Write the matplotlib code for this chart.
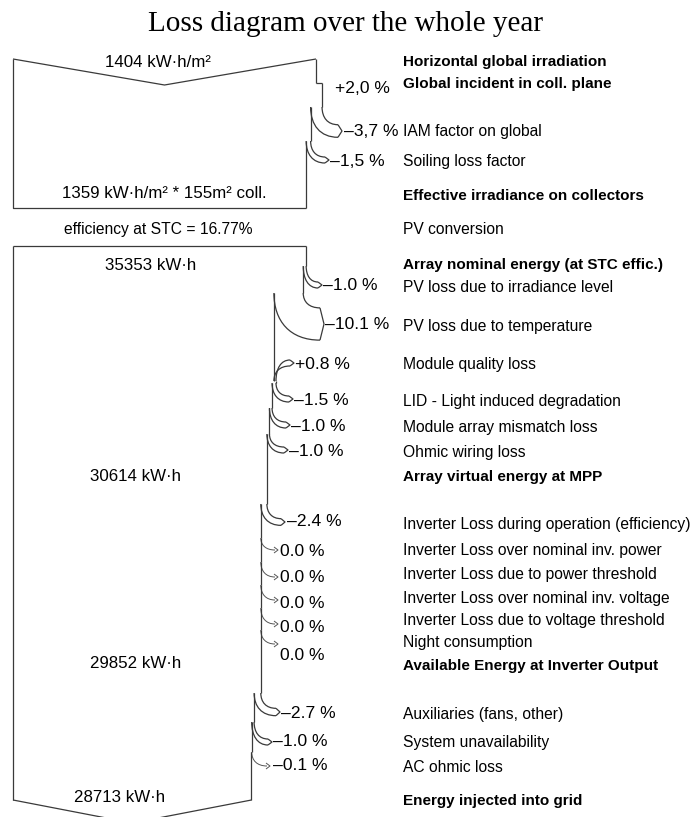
"""Loss diagram over the whole year (PV system, PVsyst style)."""

import matplotlib.pyplot as plt
from matplotlib.path import Path
from matplotlib.patches import PathPatch

plt.rcParams["font.family"] = ["Liberation Sans", "DejaVu Sans"]

# ---- data ----
IRR_GLOBAL = 1404        # kW.h/m2 horizontal global
IRR_EFFECTIVE = 1359     # kW.h/m2 on collectors
COLL_AREA = 155          # m2
STC_EFF = 16.77          # %
irr_pct = [2.0, -3.7, -1.5]

E_NOMINAL = 35353        # kW.h
energy_pct = [-1.0, -10.1, 0.8, -1.5, -1.0, -1.0, -2.4,
              0.0, 0.0, 0.0, 0.0, 0.0, -2.7, -1.0, -0.1]
checkpoint_values = [30614, 29852, 28713]

row_labels = [
    "Horizontal global irradiation", "Global incident in coll. plane",
    "IAM factor on global", "Soiling loss factor",
    "Effective irradiance on collectors", "PV conversion",
    "Array nominal energy (at STC effic.)", "PV loss due to irradiance level",
    "PV loss due to temperature", "Module quality loss",
    "LID - Light induced degradation", "Module array mismatch loss",
    "Ohmic wiring loss", "Array virtual energy at MPP",
    "Inverter Loss during operation (efficiency)",
    "Inverter Loss over nominal inv. power",
    "Inverter Loss due to power threshold",
    "Inverter Loss over nominal inv. voltage",
    "Inverter Loss due to voltage threshold", "Night consumption",
    "Available Energy at Inverter Output", "Auxiliaries (fans, other)",
    "System unavailability", "AC ohmic loss", "Energy injected into grid",
]
row_bold = [1, 1, 0, 0, 1, 0, 1, 0, 0, 0, 0, 0, 0, 1,
            0, 0, 0, 0, 0, 0, 1, 0, 0, 0, 1]

# ---- layout (pixel coords, y down) ----
row_y = [62, 84, 131, 161, 196, 229, 265, 287, 326, 364, 401, 427, 452, 477,
         525, 551, 574, 598, 621, 643, 666, 715, 742, 767, 801]
X0 = 13
W0 = 303
TOP_Y, NOTCH_Y, IRR_BOT = 59, 85, 208
E_TOP, E_BOT = 246, 800
irr_start_y = [83, 107, 141]
irr_tip = [None, (342, 131), (329, 160)]
irr_text_xy = [(335, 88), (344, 131), (330, 161)]
en_start_y = [266, 293, 381, 383, 408, 434, 504, 538, 562, 585, 608, 630,
              693, 722, 752]
en_tip = [(322, 285), (324, 324), (294, 363), (293, 399), (290, 425),
          (288, 450), (285, 522), (278, 550), (278, 577), (278, 600),
          (278, 624), (278, 644), (280, 712), (272, 742), (270, 766)]
en_text_xy = [(323, 285), (325, 324), (295, 364), (294, 400), (291, 426),
              (289, 451), (287, 522), (280, 551), (280, 578), (280, 603),
              (280, 627), (280, 655), (281, 713), (273, 742), (273, 766)]
checkpoint_xy = [(136, 476), (136, 663), (120, 797)]
LC = "#3a3a3a"
FS_BOLD = 11.0
FS_NORM = 11.25
FS_VAL = 12.2
FS_PCT = 12.6

fig = plt.figure(figsize=(6.93, 8.17), dpi=100)
ax = fig.add_axes([0, 0, 1, 1])
ax.set_xlim(0, 693)
ax.set_ylim(817, 0)
ax.axis("off")


def line(xs, ys, lw=0.9, color=LC):
    ax.plot(xs, ys, color=color, lw=lw, solid_capstyle="butt")


def curve(x0, y0, x1, y1, lw=0.9, color=LC):
    verts = [(x0, y0), (x0, y0 + 0.6 * (y1 - y0)),
             (x0 + 0.35 * (x1 - x0), y1), (x1, y1)]
    codes = [Path.MOVETO, Path.CURVE4, Path.CURVE4, Path.CURVE4]
    ax.add_patch(PathPatch(Path(verts, codes), fill=False, ec=color, lw=lw))


def branch(x_old, x_new, ys, tip):
    xt, yt = tip
    h = max(abs(x_old - x_new) * 0.55, 3)
    if abs(x_old - x_new) < 0.5:
        curve(x_old, ys, xt - 3, yt, lw=0.7, color="#555555")
        line([xt - 4, xt, xt - 4], [yt - 3, yt, yt + 3], lw=0.7, color="#555555")
        return
    if yt > ys:      # loss: outer curve on top, inner below
        curve(x_old, ys, xt - 4, yt - h)
        curve(x_new, ys, xt - 4, yt + h)
    else:            # gain: arc going up
        curve(x_new, ys, xt - 4, yt - h)
        curve(x_old, ys, xt - 4, yt + h)
    line([xt - 4, xt, xt - 4], [yt - h, yt, yt + h])


def pct_text(v, comma=False):
    if v == 0:
        s = "0.0 %"
    else:
        s = f"{v:+.1f} %".replace("-", "\u2013")
    return s.replace(".", ",") if comma else s


# ---- irradiance block ----
widths = [W0]
for p in irr_pct:
    widths.append(widths[-1] * (1 + p / 100))
xs = [X0 + w for w in widths]
line([X0, (X0 + xs[0]) / 2, xs[0]], [TOP_Y, NOTCH_Y, TOP_Y])
line([X0, X0, xs[-1]], [TOP_Y, IRR_BOT, IRR_BOT])
edge_from = [TOP_Y] + irr_start_y
edge_to = irr_start_y + [IRR_BOT]
for x, y0, y1 in zip(xs, edge_from, edge_to):
    line([x, x], [y0, y1])
for i, p in enumerate(irr_pct):
    if irr_tip[i] is None:
        line([xs[i], xs[i + 1]], [irr_start_y[i], irr_start_y[i]])
    else:
        branch(xs[i], xs[i + 1], irr_start_y[i], irr_tip[i])
    tx, ty = irr_text_xy[i]
    ax.text(tx, ty, pct_text(p, comma=True), fontsize=FS_PCT, va="center")

ax.text(158, 62, f"{IRR_GLOBAL} kW\u00b7h/m\u00b2",
        fontsize=FS_VAL, ha="center", va="center")
ax.text(164, 193, f"{IRR_EFFECTIVE} kW\u00b7h/m\u00b2 * {COLL_AREA}m\u00b2 coll.",
        fontsize=FS_VAL, ha="center", va="center")
ax.text(158, 229, f"efficiency at STC = {STC_EFF:.2f}%",
        fontsize=FS_NORM, ha="center", va="center")

# ---- energy block ----
ew = [widths[-1]]
for p in energy_pct:
    ew.append(ew[-1] * (1 + p / 100))
ex = [X0 + w for w in ew]
line([X0, ex[0]], [E_TOP, E_TOP])
line([X0, X0], [E_TOP, E_BOT])
mid = (X0 + ex[-1]) / 2
line([X0, mid, ex[-1]], [E_BOT, E_BOT + 23, E_BOT])
edge_from = [E_TOP] + en_start_y
edge_to = en_start_y + [E_BOT]
for x, y0, y1 in zip(ex, edge_from, edge_to):
    if y1 > y0:
        line([x, x], [y0, y1])
for i, p in enumerate(energy_pct):
    branch(ex[i], ex[i + 1], en_start_y[i], en_tip[i])
    tx, ty = en_text_xy[i]
    ax.text(tx, ty, pct_text(p), fontsize=FS_PCT, va="center")

ax.text(151, 265, f"{E_NOMINAL} kW\u00b7h", fontsize=FS_VAL, ha="center", va="center")
for v, (cx, cy) in zip(checkpoint_values, checkpoint_xy):
    ax.text(cx, cy, f"{v} kW\u00b7h", fontsize=FS_VAL, ha="center", va="center")

# ---- right-hand labels ----
for s, b, y in zip(row_labels, row_bold, row_y):
    ax.text(403, y, s, va="center",
            fontsize=FS_BOLD if b else FS_NORM,
            fontweight="bold" if b else "normal")

ax.text(346, 24, "Loss diagram over the whole year", fontsize=21,
        ha="center", va="center", family="Liberation Serif")

fig.savefig("out.png", dpi=100)
